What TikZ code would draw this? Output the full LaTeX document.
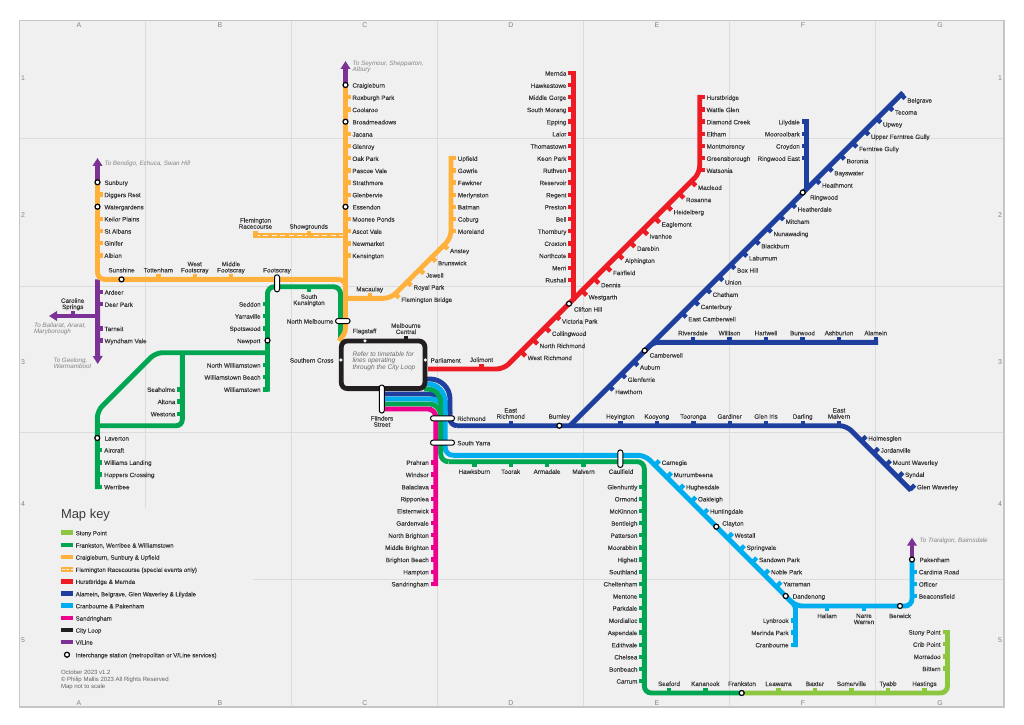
\documentclass[tikz,border=0pt]{standalone}
\usepackage{fontspec}
\setmainfont{Liberation Sans}
\newfontfamily\lbf[FakeBold=0.15]{Liberation Sans}
\usetikzlibrary{arrows.meta}
\definecolor{cO}{HTML}{FFB13B}\definecolor{cG}{HTML}{00A651}\definecolor{cLG}{HTML}{8DC63F}
\definecolor{cR}{HTML}{ED1C24}\definecolor{cB}{HTML}{1E3F9E}\definecolor{cC}{HTML}{00AEEF}
\definecolor{cM}{HTML}{EC008C}\definecolor{cK}{HTML}{231F20}\definecolor{cV}{HTML}{7B3294}
\definecolor{bgp}{HTML}{F0F0F0}\definecolor{grd}{HTML}{DCDCDC}\definecolor{txt}{HTML}{3A3A3A}\definecolor{gry}{HTML}{858585}
\newcounter{st}
\tikzset{
 ln/.style={line width=4.9bp},
 tk/.style={line width=4.4bp},
 lb/.style={inner sep=0pt,outer sep=0pt,text=txt,align=center,font=\lbf\fontsize{6.3}{6.2}\selectfont},
 nt/.style={inner sep=0pt,outer sep=0pt,text=gry,align=left,font=\itshape\fontsize{6.3}{6.2}\selectfont},
 ax/.style={inner sep=0pt,outer sep=0pt,text=gry,font=\fontsize{7}{7}\selectfont},
 kl/.style={inner sep=0pt,outer sep=0pt,text=txt,anchor=mid west,font=\lbf\fontsize{6.1}{6.2}\selectfont},
 ft/.style={inner sep=0pt,outer sep=0pt,text=txt!80,anchor=mid west,font=\fontsize{6.05}{6.3}\selectfont},
 ic/.style={circle,draw=black,fill=white,line width=1.2bp,minimum size=5bp,inner sep=0pt,outer sep=0pt},
 dotn/.style={circle,fill=white,minimum size=3.6bp,inner sep=0pt,outer sep=0pt},
 pl/.style={draw=black,fill=white,line width=1bp,rounded corners=2.4bp,inner sep=0pt,outer sep=0pt},
 sw/.style={line width=4.5bp},
}
% tick + label macros: colour, x, y, label
\newcommand\stR[4]{\stepcounter{st}\coordinate (p\thest) at (#2,#3);\draw[tk,#1] (p\thest) -- ++(5,0);\node[lb,anchor=mid west] (l\thest) at (#2+6.9,#3) {#4};}
\newcommand\stL[4]{\stepcounter{st}\coordinate (p\thest) at (#2,#3);\draw[tk,#1] (p\thest) -- ++(-5,0);\node[lb,anchor=mid east] (l\thest) at (#2-6.9,#3) {#4};}
\newcommand\stU[4]{\stepcounter{st}\coordinate (p\thest) at (#2,#3);\draw[tk,#1] (p\thest) -- ++(0,-5);\node[lb,anchor=base] (l\thest) at (#2,#3-7) {#4};}
\newcommand\stD[4]{\stepcounter{st}\coordinate (p\thest) at (#2,#3);\draw[tk,#1] (p\thest) -- ++(0,5);\node[lb,anchor=north] (l\thest) at (#2,#3+7.6) {#4};}
\newcommand\stSE[4]{\stepcounter{st}\coordinate (p\thest) at (#2-6.7,#3-6);\draw[tk,#1] (p\thest) -- ++(4.5,4.5);\node[lb,anchor=mid west] (l\thest) at (#2,#3) {#4};}
\newcommand\stNE[4]{\stepcounter{st}\coordinate (p\thest) at (#2-6.8,#3+2.9);\draw[tk,#1] (p\thest) -- ++(4.5,-4.5);\node[lb,anchor=mid west] (l\thest) at (#2,#3) {#4};}
\newcommand\icn[1]{\stepcounter{st}\node[ic] (i\thest) at (#1) {};}
\newcommand\lbR[3]{\stepcounter{st}\node[lb,anchor=mid west] (l\thest) at (#1,#2) {#3};}
\newcommand\lbL[3]{\stepcounter{st}\node[lb,anchor=mid east] (l\thest) at (#1,#2) {#3};}
\newcommand\lbU[3]{\stepcounter{st}\node[lb,anchor=base] (l\thest) at (#1,#2-7) {#3};}
\newcommand\lbD[3]{\stepcounter{st}\node[lb,anchor=north] (l\thest) at (#1,#2+7.6) {#3};}
\newcommand\keyrow[3]{\stepcounter{st}\coordinate (ka\thest) at (60.7,#2);\coordinate (kb\thest) at (73.3,#2);\draw[sw,#1] (ka\thest) -- (kb\thest);\node[kl] (kl\thest) at (75.7,#2) {#3};}
\begin{document}
\begin{tikzpicture}[x=1bp,y=-1bp]
\useasboundingbox (0,0) rectangle (1024,725);
\fill[white] (0,0) rectangle (1024,725);
% panel and grid
\fill[bgp] (19.5,20.7) rectangle (1004,707);
\foreach \x in {145.7,291.6,437.6,583.6,729.4,875.3} \draw[grd,line width=1bp] (\x,20.7) -- (\x,707);
\foreach \y in {138.2,286.6,432.8,579} \draw[grd,line width=1bp] (19.5,\y) -- (1004,\y);
\fill[bgp] (20.2,508) rectangle (253,706.4);
\draw[grd!90!black,line width=1.3bp] (19.5,20.7) rectangle (1004,707);
\foreach \x/\t in {79/A,220/B,365/C,511/D,657/E,803/F,940/G}{
 \node[ax] (top\t) at (\x,25.2) {\t};\node[ax] (bot\t) at (\x,703.2) {\t};}
\foreach \y/\t in {78/1,215/2,362.5/3,504/4,640/5}{
 \node[ax] (lef\t) at (23,\y) {\t};\node[ax] (rig\t) at (1000,\y) {\t};}
% line vertices
\coordinate (o1) at (97.5,182.3);\coordinate (o2) at (97.5,279.4);\coordinate (o3) at (345.5,279.4);\coordinate (o4) at (345.5,296);
\coordinate (o5) at (345.5,85);\coordinate (o6) at (345.5,328);\coordinate (o7) at (339,341);
\coordinate (o8) at (345.5,298.3);\coordinate (o9) at (390.7,298.3);\coordinate (o10) at (451,238);\coordinate (o11) at (451,155.9);
\coordinate (o12) at (253,235.7);\coordinate (o13) at (345.5,235.7);
\coordinate (g1) at (97.3,489);\coordinate (g2) at (97.3,411);\coordinate (g3) at (155.6,352.7);\coordinate (g4) at (267.5,352.7);
\coordinate (g5) at (267.5,391.6);\coordinate (g6) at (267.5,286.7);\coordinate (g7) at (340.5,286.7);\coordinate (g8) at (340.5,338);
\coordinate (g9) at (182.3,352.7);\coordinate (g10) at (182.3,425.7);\coordinate (g11) at (97.3,425.7);
\coordinate (g12) at (382,404);\coordinate (g13) at (430,404);\coordinate (g14) at (440.7,416);\coordinate (g15) at (440.7,454);\coordinate (g16) at (448.5,461.7);
\coordinate (g17) at (644.3,461.7);\coordinate (g18) at (644.3,693);\coordinate (fr) at (741.7,693);
\coordinate (g19) at (424,389);\coordinate (g20) at (428,389);\coordinate (g21) at (440.7,402);
\coordinate (lg1) at (947.5,693);\coordinate (lg2) at (947.5,630);
\coordinate (r1) at (428,369);\coordinate (r2) at (503.7,369);\coordinate (r3) at (699.7,173);\coordinate (r4) at (699.7,95);
\coordinate (r5) at (573.3,70.7);\coordinate (r6) at (573.3,301);
\coordinate (b1) at (382,394);\coordinate (b2) at (430,394);\coordinate (b3) at (450,414);
\coordinate (b4) at (424,379);\coordinate (b5) at (430,379);\coordinate (b6) at (450,399);\coordinate (b7) at (450,418.7);\coordinate (b8) at (457,425.7);
\coordinate (b9) at (846.4,425.7);\coordinate (b10) at (911,490.3);
\coordinate (b11) at (903,92.7);\coordinate (b12) at (570,425.7);
\coordinate (b13) at (644.7,350.9);\coordinate (b14) at (653.3,342.3);\coordinate (b15) at (878,342.3);
\coordinate (b16) at (806.7,119.4);\coordinate (b17) at (806.7,190);
\coordinate (c1) at (382,399);\coordinate (c2) at (430,399);\coordinate (c3) at (445.2,414);
\coordinate (c4) at (424,384);\coordinate (c5) at (428,384);\coordinate (c6) at (445.2,402);\coordinate (c7) at (445.2,447.5);\coordinate (c8) at (453,455.3);
\coordinate (c9) at (645,455.3);\coordinate (c10) at (795.5,606);\coordinate (c11) at (795.5,647);\coordinate (c14) at (785.7,596.2);
\coordinate (c12) at (912,606);\coordinate (c13) at (912,559.5);
\coordinate (m1) at (382,409);\coordinate (m2) at (428,409);\coordinate (m3) at (435.7,417);\coordinate (m4) at (435.7,586);
% V/Line
\draw[ln,cV,-{Triangle[length=8bp,width=9.5bp]}] (o1) -- (97.5,158);
\draw[ln,cV,-{Triangle[length=8bp,width=9.5bp]}] (o2) -- (97.7,364);
\draw[ln,cV,-{Triangle[length=8bp,width=9.5bp]}] (97.7,316) -- (49,316);
\draw[ln,cV,-{Triangle[length=8bp,width=9.5bp]}] (o5) -- (345.5,61);
\draw[ln,cV,-{Triangle[length=8bp,width=9.5bp]}] (c13) -- (912,537.7);
% blue
\draw[ln,cB,rounded corners=7bp] (b8) -- (b9) -- (b10);
\draw[ln,cB] (b4) -- (b5) to[out=0,in=90] (b6) -- (b7) to[out=-90,in=180] (b8);
\draw[ln,cB] (b1) -- (b2) to[out=0,in=90] (b3);
\draw[ln,cB] (b11) -- (b12);
\draw[ln,cB,rounded corners=5bp] (b13) -- (b14) -- (b15);
\draw[ln,cB] (b16) -- (b17);
% cyan
\draw[ln,cC] (c1) -- (c2) to[out=0,in=90] (c3);
\draw[ln,cC] (c4) -- (c5) to[out=0,in=90] (c6) -- (c7) to[out=-90,in=180] (c8);
\draw[ln,cC,rounded corners=7bp] (c8) -- (c9) -- (c10) -- (c12) -- (c13);
\draw[ln,cC,rounded corners=3bp] (c14) -- (c10) -- (c11);
% green
\draw[ln,cG,rounded corners=7bp] (g1) -- (g2) -- (g3) -- (g4);
\draw[ln,cG,rounded corners=7bp] (g5) -- (g6) -- (g7) -- (g8);
\draw[ln,cG,rounded corners=6bp] (g9) -- (g10) -- (g11);
\draw[ln,cG] (g19) -- (g20) to[out=0,in=90] (g21) -- (g15);
\draw[ln,cG] (g12) -- (g13) to[out=0,in=90] (g14) -- (g15) to[out=-90,in=180] (g16);
\draw[ln,cLG,rounded corners=7bp] (fr) -- (lg1) -- (lg2);
\draw[ln,cG,rounded corners=7bp] (g16) -- (g17) -- (g18) -- (fr);
% magenta
\draw[ln,cM] (m1) -- (m2) to[out=0,in=90] (m3) -- (m4);
% orange
\draw[ln,cO,rounded corners=7bp] (o1) -- (o2) -- (o3) -- (o4);
\draw[ln,cO] (o5) -- (o6) to[out=-90,in=55] (o7);
\draw[ln,cO,rounded corners=7bp] (o8) -- (o9) -- (o10) -- (o11);
\draw[ln,cO] (o12) -- (o13);
\draw[line width=1.2bp,bgp,dash pattern=on 5bp off 3.4bp] (o12) ++(2,0) -- (343,235.7);
% red
\draw[ln,cR,rounded corners=7bp] (r1) -- (r2) -- (r3) -- (r4);
\draw[ln,cR] (r5) -- (r6);
% city loop
\node[draw=cK,line width=4.8bp,rounded corners=6bp,minimum width=83.6bp,minimum height=47.6bp,inner sep=0pt,outer sep=0pt] (loop) at (383.1,364.8) {};
\node[nt,text=txt!75,anchor=west,font=\itshape\fontsize{6.6}{6}\selectfont] (lnote) at (352.5,361.2) {Refer to timetable for\\lines operating\\through the \textit{City Loop}};
% Craigieburn
\foreach \y/\t in {97.3/Roxburgh Park,109.5/Coolaroo,134/Jacana,146.2/Glenroy,158.3/Oak Park,170.5/Pascoe Vale,182.5/Strathmore,194.7/Glenbervie,219/Moonee Ponds,231.2/Ascot Vale,243.3/Newmarket,255.5/Kensington}{\stR{cO}{345.5}{\y}{\t}}
\foreach \y/\t in {85/Craigieburn,121.7/Broadmeadows,206.8/Essendon}{\lbR{352.5}{\y}{\t}\icn{345.5,\y}}
% Upfield
\foreach \y/\t in {158.2/Upfield,170.4/Gowrie,182.5/Fawkner,194.7/Merlynston,206.8/Batman,219/Coburg,231.2/Moreland}{\stR{cO}{451}{\y}{\t}}
\foreach \x/\y/\t in {450/250.5/Anstey,438/262.7/Brunswick,426/275/Jewell,413.5/287/Royal Park,401.3/299.3/Flemington Bridge}{\stSE{cO}{\x}{\y}{\t}}
\stU{cO}{369.7}{298.3}{Macaulay}
\stU{cO}{255.5}{235.7}{Flemington\\Racecourse}
\stU{cO}{308.7}{235.7}{Showgrounds}
% Sunbury
\foreach \y/\t in {194.5/Diggers Rest,218.8/Keilor Plains,231/St Albans,243/Ginifer,255.3/Albion}{\stR{cO}{97.5}{\y}{\t}}
\foreach \y/\t in {182.3/Sunbury,206.7/Watergardens}{\lbR{104.5}{\y}{\t}\icn{97.5,\y}}
\lbU{121.5}{279.4}{Sunshine}\icn{121.5,279.4}
\stU{cO}{158.3}{279.4}{Tottenham}
\stU{cO}{194.7}{279.4}{West\\Footscray}
\stU{cO}{231}{279.4}{Middle\\Footscray}
\lbU{277}{279.4}{Footscray}
% V/Line stations
\foreach \y/\t in {292/Ardeer,304.2/Deer Park,328.5/Tarneit,340.6/Wyndham Vale}{\stR{cV}{97.7}{\y}{\t}}
\stU{cV}{72.7}{316}{Caroline\\Springs}
\node[nt,anchor=mid west] (nb) at (104.5,163) {To Bendigo, Echuca, Swan Hill};
\node[nt,anchor=west] (nm) at (34,329) {To Ballarat, Ararat,\\Maryborough};
\node[nt,anchor=west] (ng) at (53.5,363) {To Geelong,\\Warrnambool};
\node[nt,anchor=west] (ns) at (352.7,66.6) {To Seymour, Shepparton,\\Albury};
\node[nt,anchor=mid west] (nt) at (919.7,540) {To Traralgon, Bairnsdale};
% Green west
\lbR{104.5}{438}{Laverton}\icn{97.3,438}
\foreach \y/\t in {450/Aircraft,462.3/Williams Landing,474.5/Hoppers Crossing,486.7/Werribee}{\stR{cG}{97.3}{\y}{\t}}
\foreach \y/\t in {389.3/Seaholme,401.5/Altona,413.7/Westona}{\stL{cG}{182.3}{\y}{\t}}
\foreach \y/\t in {304/Seddon,316/Yarraville,328.3/Spotswood,365/North Williamstown,377/Williamstown Beach,389.3/Williamstown}{\stL{cG}{267.5}{\y}{\t}}
\lbL{260.5}{340.5}{Newport}\icn{267.5,340.5}
\stD{cG}{309}{286.7}{South\\Kensington}
\lbL{333.5}{321}{North Melbourne}
\lbL{333.5}{360}{Southern Cross}
\lbR{430.7}{360}{Parliament}
\node[lb,anchor=base] (lfl) at (364.5,333.2) {Flagstaff};
\stU{cK}{406}{341}{Melbourne\\Central}
\node[lb,anchor=north] (lfs) at (382,416) {Flinders\\Street};
\node[dotn] (d1) at (365,340.9) {};\node[dotn] (d2) at (340.9,360) {};\node[dotn] (d3) at (425.3,360) {};
% Red
\foreach \y/\t in {73/Mernda,85.2/Hawkestowe,97.3/Middle Gorge,109.5/South Morang,121.7/Epping,133.8/Lalor,146/Thomastown,158.2/Keon Park,170.3/Ruthven,182.5/Reservoir,194.7/Regent,206.8/Preston,219/Bell,231.2/Thornbury,243.3/Croxton,255.5/Northcote,267.7/Merri,279.8/Rushall}{\stL{cR}{573.3}{\y}{\t}}
\foreach \y/\t in {97.3/Hurstbridge,109.5/Wattle Glen,121.7/Diamond Creek,133.8/Eltham,146/Montmorency,158.2/Greensborough,170.3/Watsonia}{\stR{cR}{699.7}{\y}{\t}}
\foreach \x/\y/\t in {698/187.3/Macleod,686/199.5/Rosanna,673.7/211.7/Heidelberg,661.7/224/Eaglemont,649.7/236/Ivanhoe,637/248.2/Darebin,625/260.3/Alphington,613/272.5/Fairfield,601/284.7/Dennis,588.7/296.8/Westgarth,562/321/Victoria Park,552/333.3/Collingwood,539.7/345.5/North Richmond,527.7/357.5/West Richmond}{\stSE{cR}{\x}{\y}{\t}}
\lbR{574}{309}{Clifton Hill}\icn{569,303.7}
\stU{cR}{481.5}{369}{Jolimont}
% Blue
\foreach \x/\y/\t in {907.3/100/Belgrave,895/112/Tecoma,883/124/Upwey,871/136.3/Upper Ferntree Gully,859/148.5/Ferntree Gully,846.7/160.7/Boronia,834.3/172.7/Bayswater,822/185/Heathmont,797.7/209/Heatherdale,785.7/221.3/Mitcham,773.5/233.5/Nunawading,761.3/245.7/Blackburn,749/257.8/Laburnum,737/270/Box Hill,725/282/Union,712.7/294.3/Chatham,700.7/306.5/Canterbury,688.3/318.7/East Camberwell,640/367/Auburn,627.7/379.3/Glenferrie,615.3/391.5/Hawthorn}{\stSE{cB}{\x}{\y}{\t}}
\lbR{810}{197}{Ringwood}\icn{802.7,192.5}
\lbR{649.7}{355}{Camberwell}\icn{644.7,350.6}
\foreach \x/\t in {693/Riversdale,729.5/Willison,766/Hartwell,802.5/Burwood,839/Ashburton,875.7/Alamein}{\stU{cB}{\x}{342.3}{\t}}
\foreach \y/\t in {121.7/Lilydale,133.8/Mooroolbark,146/Croydon,158.2/Ringwood East}{\stL{cB}{806.7}{\y}{\t}}
\foreach \x/\t in {510.7/East\\Richmond,620.3/Heyington,656.8/Kooyong,693.3/Tooronga,729.7/Gardiner,766/Glen Iris,802.7/Darling,839/East\\Malvern}{\stU{cB}{\x}{425.7}{\t}}
\lbU{559.3}{425.7}{Burnley}\icn{559.3,425.7}
\foreach \x/\y/\t in {868.3/438/Holmesglen,880.7/450/Jordanville,892.7/462.3/Mount Waverley,905/474.3/Syndal,917/486.7/Glen Waverley}{\stNE{cB}{\x}{\y}{\t}}
% Cyan
\foreach \x/\y/\t in {661.7/462.3/Carnegie,673.7/474.5/Murrumbeena,686/486.7/Hughesdale,698/498.8/Oakleigh,710/511/Huntingdale,734.7/535/Westall,746.7/547.3/Springvale,759/559.5/Sandown Park,771/571.7/Noble Park,783.3/583.7/Yarraman}{\stNE{cC}{\x}{\y}{\t}}
\lbR{722.3}{523}{Clayton}\icn{716.3,526.7}
\lbR{792.7}{596}{Dandenong}\icn{785.7,596}
\foreach \y/\t in {620.3/Lynbrook,632.5/Merinda Park,644.7/Cranbourne}{\stL{cC}{795.5}{\y}{\t}}
\stD{cC}{827}{606}{Hallam}
\stD{cC}{864}{606}{Narre\\Warren}
\lbD{900}{606}{Berwick}\icn{900,606}
\foreach \y/\t in {571.7/Cardinia Road,584/Officer,596/Beaconsfield}{\stR{cC}{912}{\y}{\t}}
\lbR{919.5}{559.5}{Pakenham}\icn{912,559.5}
% Green south
\foreach \x/\t in {474.3/Hawksburn,510.7/Toorak,547/Armadale,583.5/Malvern}{\stD{cG}{\x}{461.7}{\t}}
\lbD{621}{461.7}{Caulfield}
\foreach \y/\t in {486.7/Glenhuntly,498.8/Ormond,511/McKinnon,523/Bentleigh,535.2/Patterson,547.3/Moorabbin,559.5/Highett,571.7/Southland,583.8/Cheltenham,596/Mentone,608/Parkdale,620.3/Mordialloc,632.5/Aspendale,644.7/Edithvale,656.8/Chelsea,669/Bonbeach,681/Carrum}{\stL{cG}{644.3}{\y}{\t}}
\stU{cG}{669}{693}{Seaford}
\stU{cG}{705.3}{693}{Kananook}
\lbU{742}{693}{Frankston}\icn{741.7,693}
\foreach \x/\t in {778.5/Leawarra,815/Baxter,851.5/Somerville,888/Tyabb,924.5/Hastings}{\stU{cLG}{\x}{693}{\t}}
\foreach \y/\t in {632/Stony Point,644.2/Crib Point,656.4/Morradoo,668.5/Bittern}{\stL{cLG}{947.5}{\y}{\t}}
% Sandringham
\foreach \y/\t in {462.3/Prahran,474.5/Windsor,486.7/Balaclava,498.7/Ripponlea,510.8/Elsternwick,523/Gardenvale,535.2/North Brighton,547.3/Middle Brighton,559.5/Brighton Beach,571.7/Hampton,583.8/Sandringham}{\stL{cM}{435.7}{\y}{\t}}
\lbR{457.3}{418.3}{Richmond}
\lbR{457.3}{442.7}{South Yarra}
% pills
\node[pl,minimum width=5bp,minimum height=17bp] (pfoot) at (277,283.3) {};
\node[pl,minimum width=14.5bp,minimum height=5bp] (pnm) at (342.8,321) {};
\node[pl,minimum width=5bp,minimum height=28bp] (pfl) at (381.8,399) {};
\node[pl,minimum width=24bp,minimum height=5bp] (prich) at (442.5,418.3) {};
\node[pl,minimum width=24bp,minimum height=5bp] (psy) at (442.5,442.7) {};
\node[pl,minimum width=5bp,minimum height=17.5bp] (pcau) at (620.3,458.7) {};
% key
\node[inner sep=0pt,outer sep=0pt,anchor=mid west,text=txt,font=\fontsize{13}{13}\selectfont] (kt) at (61,516) {Map key};
\keyrow{cLG}{532.7}{Stony Point}
\keyrow{cG}{545}{Frankston, Werribee \& Williamstown}
\keyrow{cO}{557}{Craigieburn, Sunbury \& Upfield}
\keyrow{cO}{569.3}{Flemington Racecourse (special events only)}
\coordinate (kd1) at (61.5,569.3);\coordinate (kd2) at (73.3,569.3);
\draw[line width=1.2bp,bgp,dash pattern=on 3bp off 1.6bp] (kd1) -- (kd2);
\keyrow{cR}{581.3}{Hurstbridge \& Mernda}
\keyrow{cB}{593.7}{Alamein, Belgrave, Glen Waverley \& Lilydale}
\keyrow{cC}{605.7}{Cranbourne \& Pakenham}
\keyrow{cM}{618}{Sandringham}
\keyrow{cK}{630}{City Loop}
\keyrow{cV}{642}{V/Line}
\node[ic] (ki) at (67,654.7) {};
\node[kl] (kil) at (75.7,654.7) {Interchange station (metropolitan or V/Line services)};
\node[ft] (f1) at (61,671.7) {October 2023 v1.2};
\node[ft] (f2) at (61,679) {© Philip Mallis 2023 All Rights Reserved};
\node[ft] (f3) at (61,686.3) {Map not to scale};
\end{tikzpicture}
\end{document}
